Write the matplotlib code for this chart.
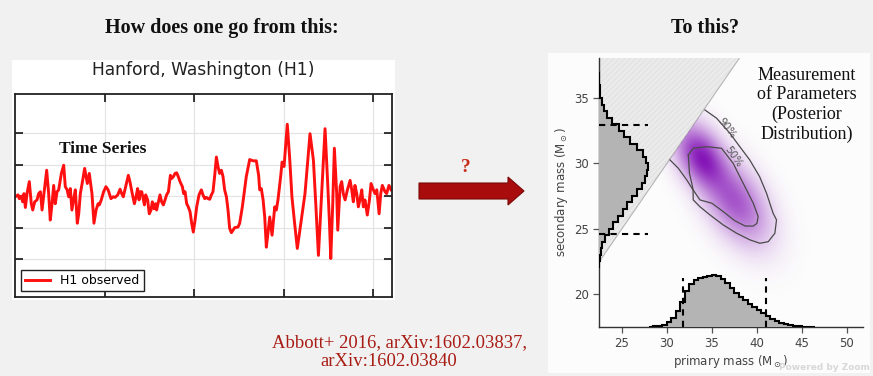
import numpy as np
import matplotlib
matplotlib.use("Agg")
import matplotlib.pyplot as plt
from matplotlib.patches import Rectangle, Polygon

# --- H1 strain (x 1e-21) ---
t = [0.2502, 0.2517, 0.2524, 0.2535, 0.2543, 0.2550, 0.2558, 0.2567, 0.2580, 0.2591,
     0.2599, 0.2610, 0.2623, 0.2632, 0.2642, 0.2651, 0.2666, 0.2677, 0.2688, 0.2697,
     0.2707, 0.2716, 0.2725, 0.2735, 0.2744, 0.2759, 0.2772, 0.2781, 0.2791, 0.2800,
     0.2809, 0.2818, 0.2830, 0.2837, 0.2848, 0.2856, 0.2865, 0.2878, 0.2889, 0.2897,
     0.2904, 0.2915, 0.2930, 0.2941, 0.2953, 0.2964, 0.2971, 0.2982, 0.2995, 0.3008,
     0.3020, 0.3036, 0.3049, 0.3059, 0.3074, 0.3087, 0.3096, 0.3105, 0.3118, 0.3133,
     0.3142, 0.3155, 0.3167, 0.3176, 0.3185, 0.3193, 0.3200, 0.3208, 0.3217, 0.3223,
     0.3230, 0.3241, 0.3250, 0.3260, 0.3267, 0.3277, 0.3286, 0.3291, 0.3301, 0.3310,
     0.3319, 0.3329, 0.3338, 0.3347, 0.3357, 0.3368, 0.3375, 0.3385, 0.3394, 0.3403,
     0.3412, 0.3422, 0.3435, 0.3442, 0.3450, 0.3459, 0.3468, 0.3478, 0.3487, 0.3496,
     0.3506, 0.3515, 0.3528, 0.3541, 0.3550, 0.3560, 0.3569, 0.3578, 0.3588, 0.3597,
     0.3606, 0.3615, 0.3625, 0.3634, 0.3643, 0.3653, 0.3662, 0.3671, 0.3681, 0.3690,
     0.3699, 0.3709, 0.3727, 0.3746, 0.3755, 0.3770, 0.3792, 0.3811, 0.3830, 0.3848,
     0.3861, 0.3867, 0.3876, 0.3886, 0.3895, 0.3904, 0.3913, 0.3923, 0.3936, 0.3951,
     0.3960, 0.3969, 0.3984, 0.3992, 0.4003, 0.4010, 0.4021, 0.4034, 0.4047, 0.4062,
     0.4077, 0.4120, 0.4148, 0.4167, 0.4182, 0.4195, 0.4213, 0.4232, 0.4245, 0.4256,
     0.4264, 0.4275, 0.4284, 0.4297, 0.4303, 0.4316, 0.4325, 0.4334, 0.4344, 0.4357,
     0.4372, 0.4381, 0.4390, 0.4399, 0.4409, 0.4418, 0.4427, 0.4437, 0.4446, 0.4455,
     0.4468, 0.4480, 0.4489, 0.4502, 0.4511, 0.4521, 0.4534, 0.4543, 0.4552, 0.4567,
     0.4576, 0.4589, 0.4601]
strain = [-0.01, 0.02, -0.04, 0.00, -0.09, 0.04, -0.18, 0.04, 0.23, -0.12,
          -0.22, -0.09, -0.06, 0.04, 0.07, -0.22, 0.15, 0.41, 0.04, -0.38,
          -0.12, 0.17, -0.12, 0.07, 0.10, 0.36, 0.49, 0.15, 0.10, -0.01,
          0.12, -0.22, -0.01, 0.10, -0.43, -0.28, 0.04, 0.25, 0.44, 0.31,
          0.20, 0.36, 0.04, -0.43, -0.22, -0.12, -0.14, -0.06, 0.07, 0.15,
          0.10, -0.04, -0.01, -0.02, 0.02, 0.11, 0.04, -0.01, 0.15, 0.33,
          0.23, 0.04, -0.12, -0.01, 0.12, -0.06, 0.07, 0.07, -0.06, -0.14,
          0.02, -0.06, -0.28, -0.22, -0.09, -0.20, -0.12, -0.22, -0.09, 0.02,
          -0.09, -0.14, -0.06, 0.02, 0.07, 0.33, 0.28, 0.31, 0.36, 0.37,
          0.31, 0.23, 0.15, 0.04, 0.07, -0.12, -0.17, -0.25, -0.43, -0.57,
          -0.38, -0.17, 0.02, 0.10, 0.02, -0.04, -0.02, -0.04, -0.05, 0.02,
          0.07, 0.31, 0.62, 0.47, 0.36, 0.41, 0.31, 0.10, -0.01, -0.22,
          -0.51, -0.58, -0.50, -0.49, -0.43, -0.17, 0.31, 0.58, 0.56, 0.56,
          0.33, 0.10, 0.12, -0.06, -0.33, -0.81, -0.59, -0.33, -0.62, -0.17,
          -0.22, -0.06, 0.31, 0.54, 0.47, 0.73, 1.14, 0.62, -0.01, -0.43,
          -0.83, 0.04, 0.99, 0.57, -0.22, -0.94, 0.04, 1.07, 0.31, -0.38,
          -0.99, -0.12, 0.76, 0.04, -0.54, 0.15, 0.23, 0.04, -0.06, 0.10,
          0.25, 0.10, -0.09, 0.17, 0.04, -0.17, -0.06, 0.10, -0.17, -0.06,
          -0.30, -0.06, 0.20, 0.10, 0.04, 0.10, -0.28, 0.04, 0.17, 0.07,
          0.04, 0.17, 0.10]

# --- posterior marginals (relative counts, peak = 100) ---
m2_edges = np.arange(22.0, 37.01, 0.5)
m2_counts = [1, 2, 4, 6, 12, 20, 29, 39, 49, 57, 67, 78, 88, 94, 98,
             100, 96, 90, 78, 63, 51, 41, 27, 16, 10, 5.5, 2.4, 1.6, 1, 0.6]
m1_edges = np.arange(28.0, 46.51, 0.5)
m1_counts = [0.6, 1, 1.5, 4, 10, 17, 31, 48, 69, 83, 90, 94, 96, 98, 100,
             98, 92, 85, 75, 65, 58, 52, 44, 38, 33, 27, 21, 16, 12, 8,
             5, 3, 1.5, 1, 0.6, 0.4, 0.2]
m1_interval = [31.8, 41.0]
m2_interval = [24.6, 32.9]

# contours (primary mass, secondary mass)
c90_m1 = [30.33, 31.26, 32.2, 32.9, 32.92, 33.66, 34.78, 36.26, 37.74, 39.22,
          40.33, 41.26, 42.0, 42.18, 41.8, 41.07, 40.3, 39.2, 38.1, 37.0, 35.52, 34.22]
c90_m2 = [30.26, 29.62, 28.73, 27.96, 27.2, 26.68, 26.05, 25.28, 24.65, 24.14,
          23.88, 24.0, 24.65, 25.67, 26.18, 27.71, 28.98, 30.26, 31.27, 32.3, 33.45, 34.08]
c50_m1 = [32.37, 32.92, 34.41, 36.07, 37.36, 38.1, 38.85, 39.6, 40.14, 40.0,
          39.6, 38.7, 37.55, 36.26, 35.0, 33.66, 32.92, 32.5, 32.37]
c50_m2 = [30.64, 31.15, 31.27, 31.15, 30.0, 28.98, 27.96, 26.94, 25.92, 25.4,
          25.2, 25.2, 25.6, 26.3, 26.94, 27.2, 27.96, 29.24, 30.64]

# density blob: centre m1, centre m2, sigma along, sigma across, weight
blobs = [(33.9, 30.4, 1.8, 1.1, 1.0),
         (37.6, 27.1, 2.3, 1.35, 0.6)]

W, H = 873, 376
bg = "#f1f1f1"
serif = ["Liberation Serif", "DejaVu Serif"]


def fx(px):
    return px / W


def fy(py):
    return 1 - py / H


fig = plt.figure(figsize=(W / 100, H / 100), dpi=100, facecolor=bg)

# white panels
fig.patches.append(Rectangle((fx(12), fy(300)), 383 / W, 240 / H, transform=fig.transFigure,
                             facecolor="white", edgecolor="none", zorder=-2))
fig.patches.append(Rectangle((fx(548), fy(373)), 322 / W, 320 / H, transform=fig.transFigure,
                             facecolor="#fcfcfc", edgecolor="none", zorder=-2))

# ---------------- left: time series ----------------
ax1 = fig.add_axes([fx(15), fy(297), 377 / W, 203 / H])
ax1.plot(t, strain, color="#ff1010", lw=2.1, solid_joinstyle="round", label="H1 observed")
ax1.set_xlim(0.25, 0.4606)
ax1.set_ylim(-1.60, 1.62)
ax1.set_xticks([0.30, 0.35, 0.40, 0.45])
ax1.set_yticks([-1.0, -0.5, 0.0, 0.5, 1.0])
ax1.grid(True, color="#e4e4e4", lw=0.9)
ax1.tick_params(direction="in", length=6, width=1.1, top=True, right=True,
                labelleft=False, labelbottom=False)
for s in ax1.spines.values():
    s.set_linewidth(1.3)
    s.set_color("#222222")
leg = ax1.legend(loc="lower left", fontsize=9, fancybox=False, edgecolor="#222222",
                 framealpha=1, borderaxespad=0.45, handlelength=2.0, borderpad=0.35)
leg.get_frame().set_linewidth(1.0)

fig.text(fx(203), fy(70), "Hanford, Washington (H1)", ha="center", va="center",
         fontsize=12.3, color="#222222")
ax1.text(0.25 + (103 - 15) / 1790, 0.75, "Time Series", ha="center", va="center",
         fontsize=12.5, family=serif, fontweight="bold", color="#111111")

# ---------------- right: posterior ----------------
x0, x1 = 22.44, 51.8
y0, y1 = 17.47, 38.06
ax2 = fig.add_axes([fx(599), fy(327), 264 / W, 269 / H])
ax2.set_facecolor("none")
ax2.set_xlim(x0, x1)
ax2.set_ylim(y0, y1)

ax2.fill([x0, x0, y1], [x0, y1, y1], facecolor="#ebebeb", edgecolor="#e3e3e3",
         hatch="//////", lw=0, zorder=1)
ax2.plot([x0, y1], [x0, y1], color="#b5b5b5", lw=0.8, zorder=1.2)

gx, gy = np.meshgrid(np.linspace(x0, x1, 500), np.linspace(y0, y1, 400))
u = np.array([0.8, -0.6])
v = np.array([0.6, 0.8])
dens = np.zeros_like(gx)
for cx, cy, su, sv, w in blobs:
    du = (gx - cx) * u[0] + (gy - cy) * u[1]
    dv = (gx - cx) * v[0] + (gy - cy) * v[1]
    dens += w * np.exp(-0.5 * ((du / su) ** 2 + (dv / sv) ** 2))
alpha = np.clip(dens / dens.max(), 0, 1) ** 0.6
alpha[gy > gx] = 0
rgba = np.zeros(gx.shape + (4,))
rgba[..., 0], rgba[..., 1], rgba[..., 2] = 0.52, 0.08, 0.72
rgba[..., 3] = alpha
ax2.imshow(rgba, extent=[x0, x1, y0, y1], origin="lower", aspect="auto",
           interpolation="bilinear", zorder=1.5)

ax2.plot(c90_m1, c90_m2, color="#4a4a4a", lw=0.9, zorder=2)
ax2.plot(c50_m1, c50_m2, color="#4a4a4a", lw=0.9, zorder=2)
ax2.text(36.7, 32.7, "90%", rotation=-52, fontsize=7.5, color="#555555",
         ha="center", va="center", zorder=2.5)
ax2.text(37.4, 30.5, "50%", rotation=-55, fontsize=7.5, color="#555555",
         ha="center", va="center", zorder=2.5)

# marginal histograms drawn on the axes edges
hx_scale = 5.45 / 100
hy_scale = 3.98 / 100
m2_vals = x0 + np.array(m2_counts) * hx_scale
m1_vals = y0 + np.array(m1_counts) * hy_scale
ax2.stairs(m2_vals, m2_edges, orientation="horizontal", baseline=x0, fill=True,
           color="#b4b4b4", zorder=3)
ax2.stairs(m2_vals, m2_edges, orientation="horizontal", baseline=None,
           color="black", lw=1.5, zorder=3.2)
ax2.stairs(m1_vals, m1_edges, baseline=y0, fill=True, color="#b4b4b4", zorder=3)
ax2.stairs(m1_vals, m1_edges, baseline=None, color="black", lw=1.5, zorder=3.2)

for m in m2_interval:
    ax2.plot([x0, x0 + 100 * hx_scale], [m, m], color="black", lw=1.5,
             dashes=(3, 2.5), zorder=4)
for m in m1_interval:
    ax2.plot([m, m], [y0, 21.2], color="black", lw=1.5, dashes=(3, 2.5), zorder=4)

ax2.set_xticks([25, 30, 35, 40, 45, 50])
ax2.set_yticks([20, 25, 30, 35])
ax2.tick_params(length=4, width=0.9, colors="#555555", labelsize=8.5, pad=3)
for side in ["top", "right"]:
    ax2.spines[side].set_visible(False)
for side in ["left", "bottom"]:
    ax2.spines[side].set_color("#333333")
    ax2.spines[side].set_linewidth(1.0)
for lab in ax2.get_xticklabels() + ax2.get_yticklabels():
    lab.set_color("#444444")

fig.text(fx(731), fy(362), r"primary mass ($\mathrm{M}_\odot$)", ha="center", va="center",
         fontsize=8.5, color="#444444")
fig.text(fx(562), fy(192), r"secondary mass ($\mathrm{M}_\odot$)", ha="center", va="center",
         fontsize=8.5, color="#444444", rotation=90)

fig.text(fx(807), fy(105), "Measurement\nof Parameters\n(Posterior\nDistribution)",
         ha="center", va="center", fontsize=13, family=serif, linespacing=1.2,
         color="#111111")

# ---------------- slide text and arrow ----------------
fig.text(fx(222), fy(28), "How does one go from this:", ha="center", va="center",
         fontsize=14.5, family=serif, fontweight="bold", color="#111111")
fig.text(fx(705), fy(28), "To this?", ha="center", va="center",
         fontsize=14.5, family=serif, fontweight="bold", color="#111111")
fig.text(fx(400), fy(343), "Abbott+ 2016, arXiv:1602.03837,", ha="center", va="center",
         fontsize=13.4, family=serif, color="#a81c14")
fig.text(fx(389), fy(362), "arXiv:1602.03840", ha="center", va="center",
         fontsize=13.4, family=serif, color="#a81c14")

arrow_pts = [(419, 183), (508, 183), (508, 177), (524, 191), (508, 205), (508, 199), (419, 199)]
fig.patches.append(Polygon([(fx(a), fy(b)) for a, b in arrow_pts], closed=True,
                           transform=fig.transFigure, facecolor="#a80c0c",
                           edgecolor="#7a0808", lw=0.8, zorder=2))
fig.text(fx(466), fy(167), "?", ha="center", va="center", fontsize=14,
         family=serif, fontweight="bold", color="#c8301c")

fig.text(fx(870), fy(368), "Powered by Zoom", ha="right", va="center", fontsize=6.5,
         color="#d8d8d8", fontweight="bold")

fig.savefig("out.png", dpi=100, facecolor=bg)
